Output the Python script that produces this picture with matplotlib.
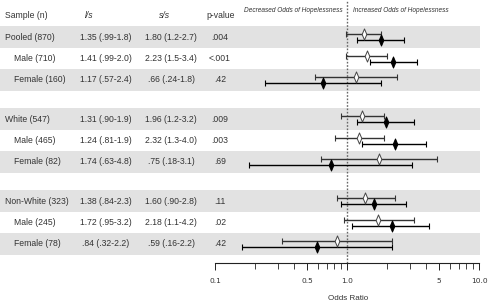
import matplotlib.pyplot as plt
import matplotlib.ticker as mticker
from matplotlib.path import Path
import numpy as np

# table data
labels = ["Pooled (870)", "Male (710)", "Female (160)",
          "White (547)", "Male (465)", "Female (82)",
          "Non-White (323)", "Male (245)", "Female (78)"]
is_sub = [False, True, True, False, True, True, False, True, True]
ls_text = ["1.35 (.99-1.8)", "1.41 (.99-2.0)", "1.17 (.57-2.4)",
           "1.31 (.90-1.9)", "1.24 (.81-1.9)", "1.74 (.63-4.8)",
           "1.38 (.84-2.3)", "1.72 (.95-3.2)", ".84 (.32-2.2)"]
ss_text = ["1.80 (1.2-2.7)", "2.23 (1.5-3.4)", ".66 (.24-1.8)",
           "1.96 (1.2-3.2)", "2.32 (1.3-4.0)", ".75 (.18-3.1)",
           "1.60 (.90-2.8)", "2.18 (1.1-4.2)", ".59 (.16-2.2)"]
pvals = [".004", "<.001", ".42", ".009", ".003", ".69", ".11", ".02", ".42"]

# odds ratios and CIs
ls_or = [1.35, 1.41, 1.17, 1.31, 1.24, 1.74, 1.38, 1.72, 0.84]
ls_lo = [0.99, 0.99, 0.57, 0.90, 0.81, 0.63, 0.84, 0.95, 0.32]
ls_hi = [1.8, 2.0, 2.4, 1.9, 1.9, 4.8, 2.3, 3.2, 2.2]
ss_or = [1.80, 2.23, 0.66, 1.96, 2.32, 0.75, 1.60, 2.18, 0.59]
ss_lo = [1.2, 1.5, 0.24, 1.2, 1.3, 0.18, 0.90, 1.1, 0.16]
ss_hi = [2.7, 3.4, 1.8, 3.2, 4.0, 3.1, 2.8, 4.2, 2.2]

tick_vals = [0.1, 0.5, 1.0, 5, 10.0]
tick_labels = ["0.1", "0.5", "1.0", "5", "10.0"]

W, H = 488, 305
TXT = "#333333"
BAND = "#e2e2e2"
SANS = ["Liberation Sans", "DejaVu Sans"]
FS = 6.2

# tall thin diamond marker
thin_diamond = Path([(0, 1), (0.42, 0), (0, -1), (-0.42, 0), (0, 1)],
                    [Path.MOVETO, Path.LINETO, Path.LINETO, Path.LINETO, Path.CLOSEPOLY])

# pixel layout of rows
row_y = []
for g in range(3):
    for r in range(3):
        row_y.append(37 + 82 * g + 21.5 * r)
row_y = np.array(row_y)

fig = plt.figure(figsize=(W / 100, H / 100), dpi=100)

# background axes in pixel coords: bands and table text
bg = fig.add_axes([0, 0, 1, 1])
bg.set_xlim(0, W)
bg.set_ylim(H, 0)
bg.axis("off")

for i, y in enumerate(row_y):
    if i % 3 != 1:
        bg.axhspan(y - 10.75, y + 10.75, xmin=0, xmax=480 / W, color=BAND, lw=0, zorder=0)

hdr_y = 15
bg.text(5, hdr_y, "Sample (n)", fontsize=FS, family=SANS, color=TXT, va="center")
bg.text(89, hdr_y, "l/s", fontsize=FS, family=SANS, style="italic", color=TXT, va="center", ha="center")
bg.text(165, hdr_y, "s/s", fontsize=FS, family=SANS, style="italic", color=TXT, va="center", ha="center")
bg.text(221, hdr_y, "p-value", fontsize=FS, family=SANS, color=TXT, va="center", ha="center")

for i, y in enumerate(row_y):
    x0 = 14 if is_sub[i] else 5
    bg.text(x0, y, labels[i], fontsize=FS, family=SANS, color=TXT, va="center")
    bg.text(106, y, ls_text[i], fontsize=FS, family=SANS, color=TXT, va="center", ha="center")
    bg.text(171, y, ss_text[i], fontsize=FS, family=SANS, color=TXT, va="center", ha="center")
    bg.text(220, y, pvals[i], fontsize=FS, family=SANS, color=TXT, va="center", ha="center")

bg.text(343, 10, "Decreased Odds of Hopelessness", fontsize=4.7, family=SANS,
        style="italic", color=TXT, ha="right", va="center")
bg.text(353, 10, "Increased Odds of Hopelessness", fontsize=4.7, family=SANS,
        style="italic", color=TXT, ha="left", va="center")
bg.text(348, 298, "Odds Ratio", fontsize=5.8, family=SANS, color=TXT, ha="center", va="center")

# forest plot axes
x_left, x_right, y_axis = 215, 479, 263
ax = fig.add_axes([x_left / W, (H - y_axis) / H, (x_right - x_left) / W, y_axis / H])
ax.patch.set_alpha(0)
ax.set_xscale("log")
ax.set_xlim(0.1, 10.0)
ax.set_ylim(y_axis, 0)
for s in ["top", "right", "left"]:
    ax.spines[s].set_visible(False)
ax.spines["bottom"].set_color("#222222")
ax.spines["bottom"].set_linewidth(0.8)
ax.yaxis.set_visible(False)
ax.xaxis.set_major_locator(mticker.FixedLocator(tick_vals))
ax.xaxis.set_major_formatter(mticker.FixedFormatter(tick_labels))
ax.xaxis.set_minor_locator(mticker.LogLocator(base=10, subs=np.arange(2, 10)))
ax.xaxis.set_minor_formatter(mticker.NullFormatter())
ax.tick_params(axis="x", which="major", length=5, width=0.7, color="#222222",
               labelsize=5.4, labelcolor=TXT, pad=6)
ax.tick_params(axis="x", which="minor", length=4, width=0.6, color="#222222")

ax.axvline(1.0, color="#666666", lw=1.0, ls=(0, (1.2, 1.2)), zorder=1)

ax.errorbar(ls_or, row_y - 3, xerr=[np.array(ls_or) - np.array(ls_lo), np.array(ls_hi) - np.array(ls_or)],
            fmt="none", ecolor="#333333", elinewidth=1.0, capsize=2, capthick=0.8, zorder=3)
ax.plot(ls_or, row_y - 3, ls="none", marker=thin_diamond, ms=8, mfc="white", mec="#444444",
        mew=0.7, zorder=4)
ax.errorbar(ss_or, row_y + 3, xerr=[np.array(ss_or) - np.array(ss_lo), np.array(ss_hi) - np.array(ss_or)],
            fmt="none", ecolor="black", elinewidth=1.0, capsize=2, capthick=0.8, zorder=3)
ax.plot(ss_or, row_y + 3, ls="none", marker=thin_diamond, ms=8, mfc="black", mec="black",
        mew=0.7, zorder=4)

fig.savefig("out.png", dpi=100)
